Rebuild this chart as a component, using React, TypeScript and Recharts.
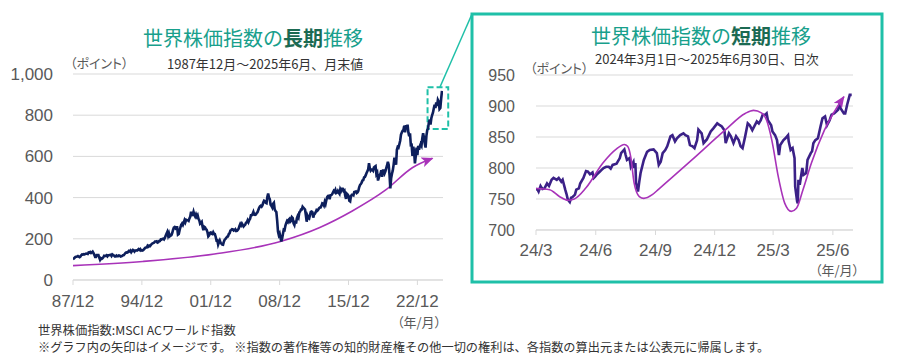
import React from 'react';
import { LineChart, Line, XAxis, YAxis, CartesianGrid, ReferenceArea } from 'recharts';

// 長期: MSCI ACWI 月末値 (1987/12 〜 2025/6)
const longStartYear = 1987;
const longStartMonth = 12;
const longValues = [
  100,
  104, 108, 112, 113, 114, 116, 113, 111, 114, 120, 124, 123, // 1988
  125, 124, 127, 128, 127, 126, 134, 133, 136, 131, 134, 138, // 1989
  131, 122, 112, 112, 121, 121, 121, 109, 98, 106, 103, 106, // 1990
  110, 118, 117, 117, 120, 115, 120, 120, 122, 123, 117, 124, // 1991
  121, 119, 114, 114, 119, 116, 116, 119, 118, 114, 115, 117, // 1992
  120, 121, 126, 131, 134, 133, 135, 141, 139, 143, 135, 141, // 1993
  146, 144, 138, 143, 144, 143, 146, 150, 146, 150, 143, 145, // 1994
  143, 146, 151, 156, 158, 158, 166, 162, 167, 165, 170, 175, // 1995
  178, 179, 182, 187, 187, 188, 182, 184, 189, 189, 197, 196, // 1996
  200, 201, 197, 204, 215, 224, 233, 215, 227, 212, 215, 218, // 1997
  228, 243, 254, 257, 251, 256, 256, 220, 223, 242, 256, 268, // 1998
  274, 267, 278, 290, 280, 292, 290, 290, 287, 299, 308, 332, // 1999
  315, 316, 331, 316, 308, 318, 307, 314, 297, 290, 273, 277, // 2000
  282, 259, 242, 259, 256, 247, 244, 232, 212, 217, 229, 231, // 2001
  225, 223, 232, 224, 223, 210, 192, 193, 172, 183, 192, 181, // 2002
  176, 172, 171, 186, 196, 200, 205, 210, 211, 223, 227, 240, // 2003
  243, 247, 246, 240, 242, 246, 238, 239, 243, 249, 262, 272, // 2004
  265, 274, 267, 260, 265, 268, 278, 280, 290, 281, 291, 297, // 2005
  314, 314, 320, 330, 317, 316, 318, 325, 329, 340, 350, 357, // 2006
  360, 356, 362, 377, 385, 382, 375, 373, 403, 420, 400, 392, // 2007
  365, 360, 352, 370, 375, 342, 335, 330, 288, 235, 218, 226, // 2008
  206, 187, 201, 223, 244, 242, 263, 276, 286, 281, 293, 297, // 2009
  283, 287, 305, 301, 275, 267, 288, 274, 299, 310, 303, 328, // 2010
  332, 342, 342, 356, 351, 347, 342, 314, 283, 311, 301, 298, // 2011
  315, 330, 332, 329, 303, 318, 322, 329, 339, 336, 341, 348, // 2012
  352, 352, 360, 372, 370, 362, 379, 369, 388, 403, 408, 409, // 2013
  392, 411, 412, 416, 425, 433, 428, 437, 422, 424, 432, 424, // 2014
  418, 441, 433, 443, 443, 432, 435, 409, 394, 419, 415, 408, // 2015
  384, 381, 407, 413, 413, 411, 427, 428, 430, 422, 425, 433, // 2016
  450, 461, 466, 473, 483, 485, 498, 500, 509, 519, 528, 537, // 2017
  567, 543, 531, 536, 536, 531, 546, 550, 553, 514, 521, 483, // 2018
  497, 510, 516, 533, 501, 531, 531, 518, 528, 543, 556, 574, // 2019
  560, 512, 445, 494, 516, 532, 559, 594, 574, 560, 632, 646, // 2020
  643, 659, 676, 706, 716, 725, 729, 749, 717, 752, 734, 754, // 2021
  717, 698, 712, 655, 656, 603, 647, 623, 566, 600, 643, 606, // 2022
  651, 632, 650, 660, 652, 688, 713, 692, 663, 643, 700, 727, // 2023
  735, 765, 778, 755, 785, 800, 812, 833, 850, 835, 862, 845, // 2024
  874, 866, 830, 835, 880, 918, // 2025
];
const longTickYears = [1987, 1994, 2001, 2008, 2015, 2022];
const longTickLabels = ['87/12', '94/12', '01/12', '08/12', '15/12', '22/12'];
const longYTicks = [0, 200, 400, 600, 800, 1000];

// 長期グラフの矢印（イメージ）
const longArrowYears = [1987.92, 1995, 2002.3, 2009, 2013, 2016.3, 2019.7, 2022.4, 2024.45];
const longArrowValues = [70, 90, 126, 187, 255, 335, 437, 545, 591];

// 短期: 2024/3/1 〜 2025/6/30 日次
const shortDates = [
  '2024-03-01', '2024-03-04', '2024-03-05', '2024-03-08', '2024-03-11', '2024-03-14', '2024-03-18', '2024-03-21', '2024-03-25', '2024-03-28',
  '2024-04-02', '2024-04-05', '2024-04-09', '2024-04-11', '2024-04-15', '2024-04-17', '2024-04-19', '2024-04-22', '2024-04-24', '2024-04-26', '2024-04-30',
  '2024-05-02', '2024-05-06', '2024-05-08', '2024-05-13', '2024-05-17', '2024-05-20', '2024-05-23', '2024-05-27', '2024-05-29', '2024-05-31',
  '2024-06-03', '2024-06-07', '2024-06-10', '2024-06-13', '2024-06-17', '2024-06-21', '2024-06-24', '2024-06-27',
  '2024-07-03', '2024-07-08', '2024-07-10', '2024-07-15', '2024-07-17', '2024-07-19', '2024-07-23', '2024-07-25', '2024-07-29', '2024-07-30',
  '2024-08-01', '2024-08-02', '2024-08-05', '2024-08-07', '2024-08-09', '2024-08-14', '2024-08-19', '2024-08-23', '2024-08-29',
  '2024-09-03', '2024-09-06', '2024-09-09', '2024-09-12', '2024-09-16', '2024-09-19', '2024-09-24', '2024-09-27',
  '2024-10-01', '2024-10-04', '2024-10-09', '2024-10-14', '2024-10-17', '2024-10-21', '2024-10-24', '2024-10-28', '2024-10-31',
  '2024-11-04', '2024-11-06', '2024-11-11', '2024-11-14', '2024-11-19', '2024-11-25', '2024-11-29',
  '2024-12-05', '2024-12-09', '2024-12-12', '2024-12-16', '2024-12-18', '2024-12-23', '2024-12-26', '2024-12-30',
  '2025-01-03', '2025-01-07', '2025-01-10', '2025-01-13', '2025-01-17', '2025-01-21', '2025-01-24', '2025-01-28', '2025-01-31',
  '2025-02-04', '2025-02-07', '2025-02-10', '2025-02-13', '2025-02-17', '2025-02-19', '2025-02-21', '2025-02-26', '2025-02-28',
  '2025-03-04', '2025-03-07', '2025-03-10', '2025-03-12', '2025-03-17', '2025-03-20', '2025-03-24', '2025-03-25', '2025-03-28', '2025-03-31',
  '2025-04-03', '2025-04-04', '2025-04-07', '2025-04-08', '2025-04-09', '2025-04-11', '2025-04-15', '2025-04-17', '2025-04-21', '2025-04-23', '2025-04-28', '2025-04-30',
  '2025-05-02', '2025-05-05', '2025-05-09', '2025-05-13', '2025-05-16', '2025-05-20', '2025-05-23', '2025-05-27', '2025-05-30',
  '2025-06-03', '2025-06-09', '2025-06-11', '2025-06-13', '2025-06-18', '2025-06-20', '2025-06-23', '2025-06-27', '2025-06-30',
];
const shortValues = [
  767, 764, 762, 771, 766, 767, 775, 771, 781, 784,
  781, 784, 778, 781, 765, 758, 749, 745, 752, 753, 757,
  765, 767, 775, 784, 795, 794, 790, 793, 784, 786,
  790, 794, 797, 800, 802, 802, 799, 805,
  807, 816, 824, 830, 821, 813, 816, 802, 810, 800,
  808, 776, 762, 778, 792, 813, 826, 829, 830,
  824, 805, 810, 824, 829, 835, 851, 853,
  843, 848, 853, 856, 853, 851, 837, 835, 832,
  845, 862, 856, 840, 846, 859, 864,
  872, 869, 867, 861, 840, 856, 851, 840,
  851, 845, 835, 832, 851, 872, 869, 861, 867,
  875, 872, 877, 886, 886, 888, 877, 869, 859,
  853, 845, 821, 837, 845, 848, 853, 843, 829, 832,
  816, 770, 746, 743, 781, 773, 800, 789, 792, 813, 824, 827,
  840, 845, 848, 867, 880, 883, 869, 877, 886,
  888, 894, 902, 896, 888, 888, 902, 918, 918,
];
const shortTickDates = ['2024-03-01', '2024-06-01', '2024-09-01', '2024-12-01', '2025-03-01', '2025-06-01'];
const shortTickLabels = ['24/3', '24/6', '24/9', '24/12', '25/3', '25/6'];
const shortYTicks = [700, 750, 800, 850, 900, 950];

// 短期グラフの矢印（イメージ）
const shortArrowDates = [
  '2024-03-01', '2024-03-22', '2024-04-06', '2024-04-19', '2024-04-29', '2024-05-17', '2024-06-12', '2024-07-02',
  '2024-07-15', '2024-07-20', '2024-07-25', '2024-07-30', '2024-08-07', '2024-08-14', '2024-08-27', '2024-09-06',
  '2024-10-27', '2024-12-17', '2025-01-17', '2025-01-30', '2025-02-11', '2025-02-19', '2025-02-27', '2025-03-09',
  '2025-03-19', '2025-03-29', '2025-04-06', '2025-04-16', '2025-04-29', '2025-05-19', '2025-06-18',
];
const shortArrowValues = [
  767, 765, 754, 748, 750, 768, 808, 830,
  838, 835, 817, 776, 754, 751, 757, 766,
  813, 861, 888, 893, 889, 877, 845, 786,
  743, 730, 735, 765, 808, 861, 915,
];

const DAY = 86400000;
const shortOrigin = Date.UTC(2024, 2, 1);
const toDay = (s: string) => {
  const [y, m, d] = s.split('-').map(Number);
  return (Date.UTC(y, m - 1, d) - shortOrigin) / DAY;
};

const longData = longValues.map((v, i) => ({
  x: longStartYear + (longStartMonth - 1) / 12 + i / 12,
  v,
}));
const longArrow = longArrowYears.map((x, i) => ({ x, v: longArrowValues[i] }));
const longTicks = longTickYears.map((y) => y + 11 / 12);

const shortData = shortDates.map((d, i) => ({ x: toDay(d), v: shortValues[i] }));
const shortArrow = shortArrowDates.map((d, i) => ({ x: toDay(d), v: shortArrowValues[i] }));
const shortTicks = shortTickDates.map(toDay);

const TEAL = '#1fc0a8';
const TITLE = '#18a08c';
const TITLE_DARK = '#1b6a52';
const GRID = '#d9d9d9';
const AXIS_TEXT = '#595959';
const ARROW = '#a833b9';
const JP = "'Noto Sans CJK JP', 'Noto Sans', sans-serif";
const NUM = "'Liberation Sans', Arial, sans-serif";

const Text: React.FC<{ x: number; y: number; size: number; color?: string; center?: boolean; palt?: boolean; children: React.ReactNode }> = ({
  x, y, size, color = '#333', center, palt, children,
}) => (
  <div
    style={{
      position: 'absolute',
      left: x,
      top: y,
      transform: center ? 'translate(-50%, -50%)' : 'translateY(-50%)',
      fontFamily: JP,
      fontSize: size,
      lineHeight: 1,
      color,
      whiteSpace: 'nowrap',
      fontFeatureSettings: palt ? '"palt"' : undefined,
    }}
  >
    {children}
  </div>
);

export default function App() {
  return (
    <div style={{ position: 'absolute', left: 0, top: 0, width: 900, height: 360, background: '#fff', overflow: 'hidden' }}>
      {/* 長期 */}
      <div style={{ position: 'absolute', left: 0, top: 0 }}>
        <LineChart width={460} height={320} margin={{ top: 74, right: 17, left: 13, bottom: 10 }}>
          <CartesianGrid vertical={false} stroke={GRID} />
          <XAxis
            dataKey="x"
            type="number"
            domain={[1987 + 11 / 12, 2025.52]}
            allowDataOverflow
            ticks={longTicks}
            tickFormatter={(t: number) => longTickLabels[longTicks.findIndex((k) => Math.abs(k - t) < 0.01)] ?? ''}
            height={30}
            stroke={GRID}
            tickSize={5}
            tickMargin={10}
            tick={{ fill: AXIS_TEXT, fontSize: 17, fontFamily: NUM }}
          />
          <YAxis
            type="number"
            domain={[0, 1000]}
            ticks={longYTicks}
            width={60}
            axisLine={false}
            tickLine={false}
            tickMargin={14}
            tickFormatter={(v: number) => v.toLocaleString('en-US')}
            tick={{ fill: AXIS_TEXT, fontSize: 17, fontFamily: NUM }}
          />
          <ReferenceArea
            x1={2023.95}
            x2={2026.05}
            y1={733}
            y2={936}
            ifOverflow="visible"
            fill="none"
            stroke={TEAL}
            strokeWidth={2}
            strokeDasharray="6 3"
          />
          <Line
            data={longArrow}
            dataKey="v"
            type="monotone"
            stroke={ARROW}
            strokeWidth={1.6}
            dot={false}
            activeDot={false}
            markerEnd="url(#arrowHead)"
            isAnimationActive={false}
          />
          <Line
            data={longData}
            dataKey="v"
            type="linear"
            stroke="#0d1f5c"
            strokeWidth={2.6}
            dot={false}
            activeDot={false}
            isAnimationActive={false}
          />
        </LineChart>
      </div>

      {/* 短期 */}
      <div style={{ position: 'absolute', left: 460, top: 0 }}>
        <LineChart width={440} height={270} margin={{ top: 75, right: 47, left: 16, bottom: 10 }}>
          <CartesianGrid vertical={false} stroke={GRID} />
          <XAxis
            dataKey="x"
            type="number"
            domain={[0, 488]}
            allowDataOverflow
            ticks={shortTicks}
            tickFormatter={(t: number) => shortTickLabels[shortTicks.indexOf(t)] ?? ''}
            height={30}
            stroke={GRID}
            tickSize={5}
            tickMargin={9}
            tick={{ fill: AXIS_TEXT, fontSize: 17, fontFamily: NUM }}
          />
          <YAxis
            type="number"
            domain={[700, 950]}
            ticks={shortYTicks}
            width={60}
            axisLine={false}
            tickLine={false}
            tickMargin={15}
            tick={{ fill: AXIS_TEXT, fontSize: 16, fontFamily: NUM }}
          />
          <Line
            data={shortData}
            dataKey="v"
            type="linear"
            stroke="#3b2187"
            strokeWidth={2.6}
            dot={false}
            activeDot={false}
            isAnimationActive={false}
          />
          <Line
            data={shortArrow}
            dataKey="v"
            type="monotone"
            stroke={ARROW}
            strokeWidth={1.6}
            dot={false}
            activeDot={false}
            markerEnd="url(#arrowHead)"
            isAnimationActive={false}
          />
        </LineChart>
      </div>

      {/* 枠と引き出し線 */}
      <svg width={900} height={360} style={{ position: 'absolute', left: 0, top: 0, pointerEvents: 'none' }}>
        <defs>
          <marker id="arrowHead" markerUnits="userSpaceOnUse" markerWidth={12} markerHeight={10} refX={11} refY={5} orient="auto">
            <path d="M0,0 L12,5 L0,10 L3,5 z" fill={ARROW} />
          </marker>
        </defs>
        <rect x={472} y={14} width={410} height={268} fill="none" stroke={TEAL} strokeWidth={3} />
        <line x1={440} y1={87} x2={472} y2={14} stroke={TEAL} strokeWidth={1.5} />
      </svg>

      {/* タイトル・注記 */}
      <Text x={253} y={38} size={20} color={TITLE} center>
        世界株価指数の<span style={{ color: TITLE_DARK, fontWeight: 700 }}>長期</span>推移
      </Text>
      <Text x={167} y={63} size={13}>1987年12月～2025年6月、月末値</Text>
      <Text x={70} y={62} size={13} color={AXIS_TEXT} palt>（ポイント）</Text>
      <Text x={397} y={321} size={13} color={AXIS_TEXT} palt>（年/月）</Text>

      <Text x={701} y={36} size={20} color={TITLE} center>
        世界株価指数の<span style={{ color: TITLE_DARK, fontWeight: 700 }}>短期</span>推移
      </Text>
      <Text x={595} y={58} size={13}>2024年3月1日～2025年6月30日、日次</Text>
      <Text x={530} y={67} size={13} color={AXIS_TEXT} palt>（ポイント）</Text>
      <Text x={815} y={269} size={13} color={AXIS_TEXT} palt>（年/月）</Text>

      <Text x={38} y={330} size={12.3}>世界株価指数:MSCI ACワールド指数</Text>
      <Text x={38} y={347} size={12.2}>
        ※グラフ内の矢印はイメージです。 ※指数の著作権等の知的財産権その他一切の権利は、各指数の算出元または公表元に帰属します。
      </Text>
    </div>
  );
}
